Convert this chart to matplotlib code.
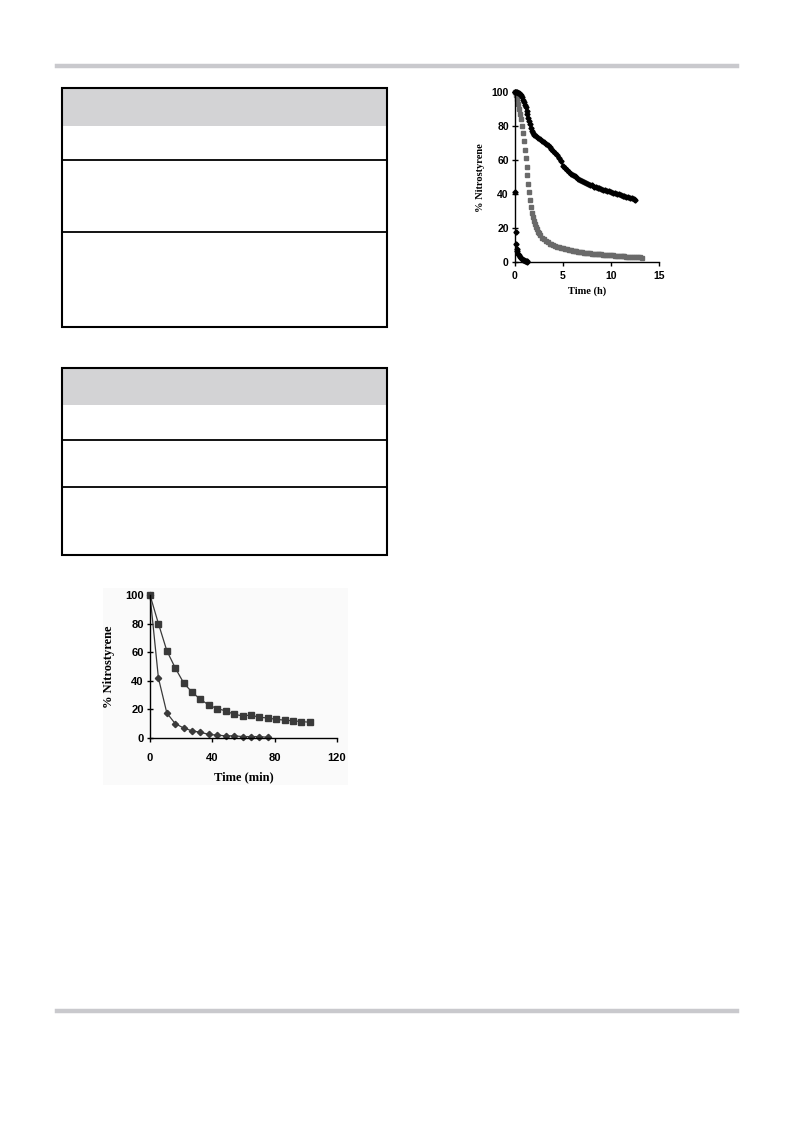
import matplotlib
matplotlib.use("Agg")
import matplotlib.pyplot as plt
from matplotlib.lines import Line2D
from matplotlib.patches import Rectangle

W, H = 793, 1121

# ---------------- data: top-right chart (time in h) ----------------
slow_t = [0, 0.1, 0.2, 0.3, 0.4, 0.5, 0.6, 0.7, 0.8, 0.9, 1.0, 1.1, 1.2, 1.3, 1.4, 1.5, 1.6, 1.7, 1.8, 1.9,
          2.0, 2.2, 2.4, 2.6, 2.8, 3.0, 3.2, 3.4, 3.6, 3.8, 4.0, 4.2, 4.4, 4.6, 4.8, 5.0, 5.2, 5.4, 5.6, 5.8,
          6.0, 6.2, 6.4, 6.6, 6.8, 7.0, 7.2, 7.4, 7.6, 7.8, 8.0, 8.2, 8.4, 8.6, 8.8, 9.0, 9.2, 9.4, 9.6, 9.8,
          10.0, 10.2, 10.4, 10.6, 10.8, 11.0, 11.2, 11.4, 11.6, 11.8, 12.0, 12.2, 12.4, 12.5]
slow_y = [100, 100, 100, 99.5, 99.5, 99, 98, 97, 95.5, 94, 92.5, 91, 89, 87, 85, 83, 81, 79, 77, 76,
          75, 74.2, 73, 72.3, 71, 70.5, 69.3, 68.6, 67.8, 66.4, 65.2, 64, 63.1, 61, 59.2, 56.8, 55.2, 54.1, 53.2, 52,
          51.1, 50.6, 49.8, 49.1, 48.2, 47.6, 47.1, 46.4, 46.1, 45.4, 45.1, 44.4, 44.2, 43.8, 43.5, 43.1, 42.4, 42.6, 41.9, 41.6,
          41.2, 40.8, 40.6, 40.1, 39.9, 39.6, 39.1, 39.0, 38.6, 38.1, 38.0, 37.6, 37.1, 36.6]

mid_t = [0, 0.1, 0.2, 0.3, 0.4, 0.5, 0.6, 0.7, 0.8, 0.9, 1.0, 1.1, 1.2, 1.3, 1.4, 1.5, 1.6, 1.7, 1.8, 1.9,
         2.0, 2.1, 2.2, 2.3, 2.4, 2.5, 2.6, 2.8, 3.0, 3.2, 3.4, 3.6, 3.8, 4.0, 4.2, 4.4, 4.6, 4.8, 5.0, 5.2,
         5.4, 5.6, 5.8, 6.0, 6.2, 6.4, 6.6, 6.8, 7.0, 7.2, 7.4, 7.6, 7.8, 8.0, 8.2, 8.4, 8.6, 8.8, 9.0, 9.2,
         9.4, 9.6, 9.8, 10.0, 10.2, 10.4, 10.6, 10.8, 11.0, 11.2, 11.4, 11.6, 11.8, 12.0, 12.2, 12.4, 12.6, 12.8,
         13.0, 13.2]
mid_y = [100, 98, 96, 93, 90, 87, 84, 80, 76, 71, 66, 61, 56, 51, 46, 41, 36.5, 32.5, 29, 26.5,
         24.5, 22.5, 21, 19.5, 18, 17, 16, 14.5, 13.5, 12.5, 11.8, 11, 10.5, 10, 9.5, 9.2, 8.8, 8.5, 8.2, 8,
         7.7, 7.4, 7.1, 6.8, 6.6, 6.4, 6.2, 6, 5.8, 5.6, 5.5, 5.4, 5.3, 5.1, 5, 4.9, 4.8, 4.7, 4.6, 4.5,
         4.4, 4.3, 4.2, 4.1, 4, 3.9, 3.8, 3.7, 3.6, 3.5, 3.5, 3.4, 3.3, 3.2, 3.2, 3.1, 3, 3,
         2.9, 2.8]

fast_t = [0, 0.05, 0.1, 0.15, 0.2, 0.25, 0.3, 0.4, 0.5, 0.6, 0.7, 0.8, 0.9, 1.0, 1.1, 1.2, 1.3]
fast_y = [100, 41, 18, 11, 8, 6.5, 5, 4, 3, 2.5, 2, 1.5, 1.2, 1, 0.7, 0.5, 0.3]

top_xticks = [0, 5, 10, 15]
top_yticks = [0, 20, 40, 60, 80, 100]

# ---------------- data: bottom chart (time in min) ----------------
sq_t = [0, 5.4, 10.8, 16.2, 21.6, 27, 32.4, 37.8, 43.2, 48.6, 54, 59.4, 64.8, 70.2, 75.6, 81, 86.4, 91.8, 97.2, 102.6]
sq_y = [100, 80, 61, 49, 38.5, 32, 27, 23, 20.5, 19, 16.5, 15.5, 16, 14.5, 14, 13, 12.5, 12, 11.5, 11]
di_t = [0, 5.4, 10.8, 16.2, 21.6, 27, 32.4, 37.8, 43.2, 48.6, 54, 59.4, 64.8, 70.2, 75.6]
di_y = [100, 42, 17.5, 10, 7, 5, 4, 2.5, 2, 1.5, 1.5, 1, 1, 1, 0.5]

bot_xticks = [0, 40, 80, 120]
bot_yticks = [0, 20, 40, 60, 80, 100]

# ---------------- figure ----------------
fig = plt.figure(figsize=(W / 100, H / 100), dpi=100)
fig.patch.set_facecolor("white")


def fx(px):
    return px / W


def fy(py):
    return 1 - py / H


# page rules
for yy in (66, 1011):
    fig.add_artist(Line2D([fx(57), fx(737)], [fy(yy), fy(yy)], color="#c9c9cd", lw=3.2))


def table(x0, x1, y0, yh, ylines, y1):
    fig.add_artist(Rectangle((fx(x0), fy(yh)), fx(x1) - fx(x0), fy(y0) - fy(yh),
                             facecolor="#d3d3d5", edgecolor="none"))
    for yy in ylines:
        fig.add_artist(Line2D([fx(x0), fx(x1)], [fy(yy), fy(yy)], color="black", lw=1.3))
    fig.add_artist(Rectangle((fx(x0), fy(y1)), fx(x1) - fx(x0), fy(y0) - fy(y1),
                             facecolor="none", edgecolor="black", lw=1.5))


table(62, 387, 88, 126, [160, 232], 327)
table(62, 387, 368, 405, [440, 487], 555)

# faint background of the lower figure
fig.add_artist(Rectangle((fx(103), fy(785)), fx(348) - fx(103), fy(588) - fy(785),
                         facecolor="#fafafa", edgecolor="none", zorder=0))

label_font = dict(family="Liberation Serif", weight="bold")


def style_axes(ax, fs):
    for s in ("top", "right"):
        ax.spines[s].set_visible(False)
    for s in ("left", "bottom"):
        ax.spines[s].set_linewidth(1.0)
        ax.spines[s].set_color("black")
    ax.tick_params(axis="y", direction="inout", length=5, width=1.0, pad=2)
    ax.tick_params(axis="x", direction="out", length=3, width=1.0, pad=3)
    for lab in ax.get_xticklabels() + ax.get_yticklabels():
        lab.set_fontfamily("Liberation Sans")
        lab.set_fontweight("bold")
        lab.set_fontsize(fs)
    ax.patch.set_alpha(0)


# ---------------- top-right chart ----------------
ax1 = fig.add_axes([fx(515), fy(262.3), fx(659) - fx(515), fy(92) - fy(262.3)])
ax1.plot(mid_t, mid_y, ls="none", marker="s", ms=2.6, color="#6a6a6a", mec="#6a6a6a", clip_on=False)
ax1.plot(slow_t, slow_y, ls="-", lw=1.3, marker="D", ms=2.6, color="black", clip_on=False)
ax1.plot(fast_t, fast_y, ls="none", marker="D", ms=2.6, color="black", clip_on=False)
ax1.set_xlim(0, 15)
ax1.set_ylim(0, 100)
ax1.set_xticks(top_xticks)
ax1.set_yticks(top_yticks)
style_axes(ax1, 7.5)
ax1.set_xlabel("Time (h)", fontsize=7.5, labelpad=4, **label_font)
ax1.set_ylabel("% Nitrostyrene", fontsize=7.5, labelpad=5, **label_font)

# ---------------- bottom chart ----------------
ax2 = fig.add_axes([fx(150), fy(738), fx(337) - fx(150), fy(595) - fy(738)])
ax2.plot(sq_t, sq_y, ls="-", lw=0.9, marker="s", ms=4.2, color="#3a3a3a", clip_on=False)
ax2.plot(di_t, di_y, ls="-", lw=0.9, marker="D", ms=3.2, color="#3a3a3a", clip_on=False)
ax2.set_xlim(0, 120)
ax2.set_ylim(0, 100)
ax2.set_xticks(bot_xticks)
ax2.set_yticks(bot_yticks)
style_axes(ax2, 8)
ax2.tick_params(axis="x", pad=8)
ax2.set_xlabel("Time (min)", fontsize=9, labelpad=6, **label_font)
ax2.set_ylabel("% Nitrostyrene", fontsize=9, labelpad=7, **label_font)

fig.savefig("out.png", dpi=100, facecolor="white")
